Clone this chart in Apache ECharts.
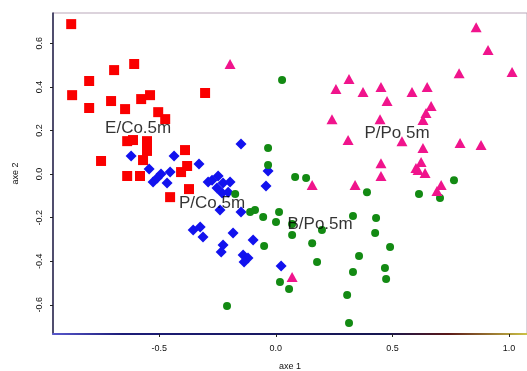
<!DOCTYPE html>
<html>
<head>
<meta charset="utf-8">
<script src="https://cdn.jsdelivr.net/npm/echarts@6/dist/echarts.min.js"></script>
<style>
  html, body { margin: 0; padding: 0; background: #fff; }
  #chart { width: 527px; height: 371px; }
</style>
</head>
<body>
<div id="chart"></div>
<script>
// points, [axe 1, axe 2]
const eCo5m = [
  [-0.877, 0.688], [-0.607, 0.505], [-0.693, 0.477], [-0.800, 0.427], [-0.873, 0.362],
  [-0.539, 0.362], [-0.577, 0.344], [-0.706, 0.335], [-0.800, 0.303], [-0.646, 0.298],
  [-0.303, 0.372], [-0.504, 0.284], [-0.474, 0.252], [-0.637, 0.151], [-0.612, 0.156],
  [-0.552, 0.151], [-0.552, 0.106], [-0.569, 0.064], [-0.389, 0.110], [-0.749, 0.060],
  [-0.380, 0.037], [-0.406, 0.009], [-0.637, -0.009], [-0.582, -0.009], [-0.372, -0.069],
  [-0.453, -0.106]
];
const pCo5m = [
  [-0.620, 0.083], [-0.436, 0.083], [-0.329, 0.046], [-0.149, 0.138], [-0.033, 0.014],
  [-0.543, 0.023], [-0.492, 0.000], [-0.453, 0.009], [-0.526, -0.037], [-0.466, -0.041],
  [-0.508, -0.018], [-0.247, -0.009], [-0.290, -0.037], [-0.273, -0.028], [-0.226, -0.041],
  [-0.196, -0.037], [-0.252, -0.064], [-0.230, -0.087], [-0.204, -0.083], [-0.239, -0.165],
  [-0.149, -0.174], [-0.042, -0.055], [-0.354, -0.257], [-0.324, -0.243], [-0.312, -0.289],
  [-0.183, -0.271], [-0.097, -0.303], [-0.226, -0.326], [-0.234, -0.358], [-0.140, -0.372],
  [-0.119, -0.385], [-0.136, -0.404], [0.023, -0.422]
];
const bPo5m = [
  [0.027, 0.431], [-0.033, 0.119], [-0.033, 0.041], [0.083, -0.014], [0.130, -0.018],
  [0.391, -0.083], [0.614, -0.092], [0.704, -0.110], [0.764, -0.028], [-0.174, -0.092],
  [-0.110, -0.174], [-0.089, -0.165], [-0.054, -0.197], [0.014, -0.174], [0.001, -0.220],
  [0.070, -0.229], [0.070, -0.280], [0.198, -0.257], [0.331, -0.193], [0.430, -0.202],
  [0.426, -0.271], [0.490, -0.335], [0.156, -0.317], [-0.050, -0.330], [0.357, -0.376],
  [0.177, -0.404], [0.331, -0.450], [0.468, -0.431], [0.473, -0.482], [0.018, -0.495],
  [0.057, -0.528], [0.306, -0.555], [0.314, -0.683], [-0.209, -0.606]
];
const pPo5m = [
  [-0.196, 0.505], [0.314, 0.436], [0.258, 0.390], [0.374, 0.376], [0.241, 0.252],
  [0.310, 0.156], [0.859, 0.674], [0.910, 0.569], [0.786, 0.463], [1.013, 0.468],
  [0.451, 0.399], [0.477, 0.335], [0.584, 0.376], [0.649, 0.399], [0.666, 0.312],
  [0.644, 0.280], [0.631, 0.248], [0.447, 0.252], [0.541, 0.151], [0.631, 0.119],
  [0.790, 0.142], [0.880, 0.133], [0.451, 0.050], [0.623, 0.055], [0.601, 0.028],
  [0.610, 0.018], [0.640, 0.005], [0.451, -0.009], [0.340, -0.050], [0.156, -0.050],
  [0.709, -0.050], [0.691, -0.078], [0.070, -0.472]
];

const groupNames = ['E/Co.5m', 'P/Co.5m', 'B/Po.5m', 'P/Po 5m'];
const groupLabelAt = [[-0.59, 0.211], [-0.273, -0.133], [0.19, -0.229], [0.52, 0.188]];
const xTicks = [-0.5, 0.0, 0.5, 1.0];
const yTicks = [-0.6, -0.4, -0.2, 0.0, 0.2, 0.4, 0.6];

const chart = echarts.init(document.getElementById('chart'), null, { renderer: 'canvas' });

const tickFont = { fontFamily: 'Liberation Sans', fontSize: 9, color: '#111' };

const option = {
  backgroundColor: '#fff',
  animation: false,
  grid: {
    left: 53, right: 0, top: 13, bottom: 37,
    outerBoundsMode: 'none', containLabel: false,
    show: true, borderColor: '#b9a7b9', borderWidth: 1, backgroundColor: '#fff'
  },
  xAxis: {
    type: 'value',
    min: -0.955, max: 1.077,
    name: 'axe 1', nameLocation: 'middle', nameGap: 28,
    nameTextStyle: tickFont,
    axisLine: {
      show: true, onZero: false,
      lineStyle: {
        width: 2,
        color: new echarts.graphic.LinearGradient(0, 0, 1, 0, [
          { offset: 0, color: '#5a5ad0' },
          { offset: 0.15, color: '#1c1c78' },
          { offset: 0.7, color: '#161650' },
          { offset: 0.83, color: '#5a1818' },
          { offset: 1, color: '#d0c848' }
        ])
      }
    },
    axisTick: { show: true, customValues: xTicks, length: 3, lineStyle: { color: '#222' } },
    axisLabel: {
      customValues: xTicks, margin: 10, ...tickFont,
      formatter: v => v.toFixed(1)
    },
    splitLine: { show: false }
  },
  yAxis: {
    type: 'value',
    min: -0.734, max: 0.739,
    name: 'axe 2', nameLocation: 'middle', nameGap: 33, nameRotate: 90,
    nameTextStyle: tickFont,
    axisLine: { show: true, onZero: false, lineStyle: { width: 1.5, color: '#22224a' } },
    axisTick: { show: true, customValues: yTicks, length: 3, lineStyle: { color: '#222' } },
    axisLabel: {
      customValues: yTicks, rotate: 90, margin: 9, ...tickFont,
      formatter: v => v.toFixed(1)
    },
    splitLine: { show: false }
  },
  series: [
    { name: groupNames[0], type: 'scatter', data: eCo5m, symbol: 'rect', symbolSize: 10,
      itemStyle: { color: '#fa0000', opacity: 1 } },
    { name: groupNames[1], type: 'scatter', data: pCo5m, symbol: 'diamond', symbolSize: 11,
      itemStyle: { color: '#1212ee', opacity: 1 } },
    { name: groupNames[2], type: 'scatter', data: bPo5m, symbol: 'circle', symbolSize: 8,
      itemStyle: { color: '#138a13', opacity: 1 } },
    { name: groupNames[3], type: 'scatter', data: pPo5m, symbol: 'triangle', symbolSize: [11, 10],
      itemStyle: { color: '#f0148c', opacity: 1 } },
    {
      type: 'scatter', silent: true, symbolSize: 0, z: 5,
      data: groupNames.map((n, i) => ({ name: n, value: groupLabelAt[i] })),
      label: {
        show: true, position: 'inside', formatter: '{b}',
        fontFamily: 'Liberation Sans', fontSize: 17, color: '#000'
      }
    }
  ]
};
chart.setOption(option);
</script>
</body>
</html>
